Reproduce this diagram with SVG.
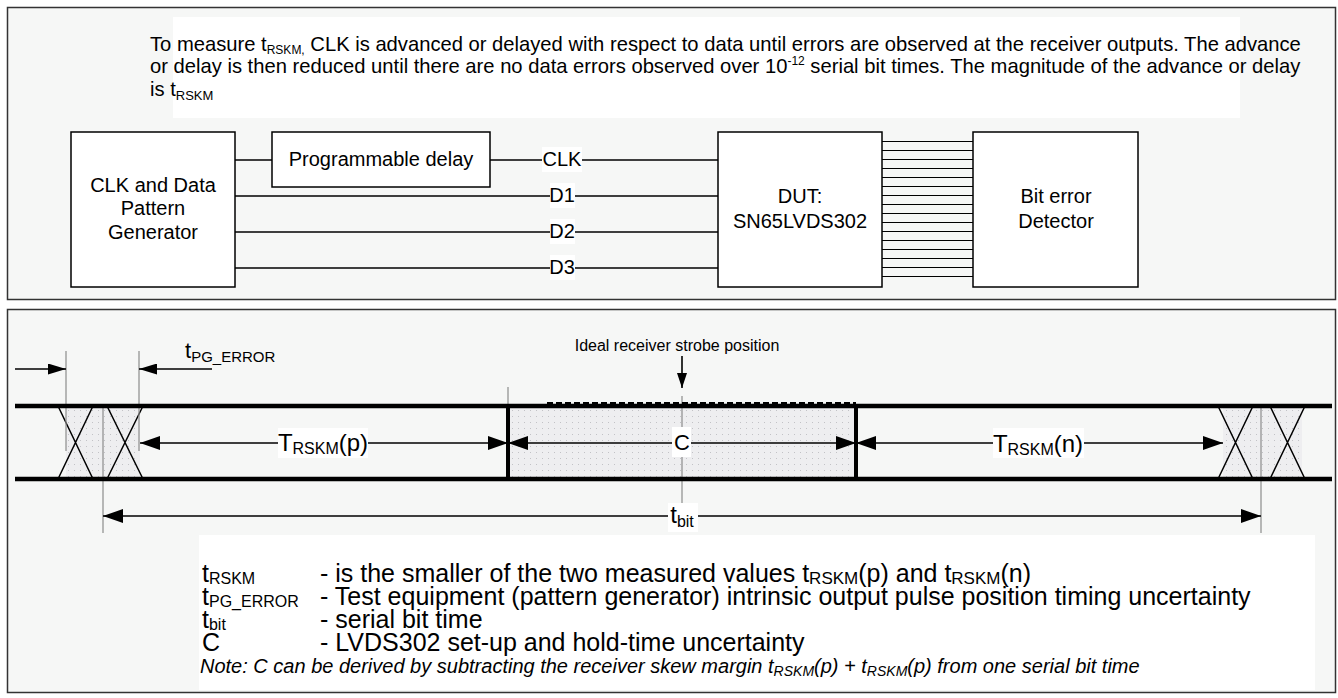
<svg xmlns="http://www.w3.org/2000/svg" width="1338" height="698" viewBox="0 0 1338 698">
<style>
.t{font-family:"Liberation Sans",Arial,Helvetica,sans-serif;fill:#000}
.panel{fill:#f6f7f6;stroke:#333;stroke-width:1.5}
.box{fill:#fff;stroke:#000;stroke-width:1.5}
.wire{stroke:#000;stroke-width:1.3;fill:none}
.bus{stroke:#000;stroke-width:1.1;fill:none}
.lbg{fill:#fff}
.thick{stroke:#000;stroke-width:4.5;fill:none}
.bold{stroke:#000;stroke-width:4;fill:none}
.x{stroke:#000;stroke-width:1.5;fill:none}
.gray{stroke:#8c8c8c;stroke-width:1.2;fill:none}
.arr{stroke:#000;stroke-width:1.6;fill:none;marker-start:url(#ah);marker-end:url(#ah)}
.arrs{stroke:#000;stroke-width:1.4;fill:none;marker-end:url(#ahs)}
</style>
<defs>
<marker id="ah" viewBox="0 0 20 14" refX="20" refY="7" markerWidth="20" markerHeight="14" markerUnits="userSpaceOnUse" orient="auto-start-reverse"><path d="M0,0 L20,7 L0,14 z" fill="#000"/></marker>
<marker id="ahs" viewBox="0 0 18 11" refX="18" refY="5.5" markerWidth="18" markerHeight="11" markerUnits="userSpaceOnUse" orient="auto"><path d="M0,0 L18,5.5 L0,11 z" fill="#000"/></marker>
<marker id="ahd" viewBox="0 0 15 10" refX="15" refY="5" markerWidth="15" markerHeight="10" markerUnits="userSpaceOnUse" orient="auto"><path d="M0,0 L15,5 L0,10 z" fill="#000"/></marker>
<pattern id="dots" width="6" height="6" patternUnits="userSpaceOnUse"><rect width="6" height="6" fill="#eeeef0"/><rect x="2" y="2" width="1" height="1" fill="#c2c2c6"/></pattern>
</defs>

<!-- Top panel -->
<rect class="panel" x="7.5" y="7.5" width="1328" height="292"/>
<rect class="lbg" x="173" y="17" width="1067" height="101"/>
<g id="description">
<text class="t" font-size="20.2" x="150" y="51">To measure t<tspan font-size="12" dy="3">RSKM,</tspan><tspan dy="-3"> CLK is advanced or delayed with respect to data until errors are observed at the receiver outputs. The advance</tspan></text>
<text class="t" font-size="20.2" x="150" y="73">or delay is then reduced until there are no data errors observed over 10<tspan font-size="12" dy="-8">-12</tspan><tspan dy="8"> serial bit times. The magnitude of the advance or delay</tspan></text>
<text class="t" font-size="20.2" x="150" y="96">is t<tspan font-size="13" dy="4">RSKM</tspan></text>
</g>

<g id="connectors">
<line class="wire" x1="235" y1="160" x2="272" y2="160"/>
<line class="wire" x1="490" y1="160" x2="718" y2="160"/>
<line class="wire" x1="235" y1="196" x2="718" y2="196"/>
<line class="wire" x1="235" y1="232" x2="718" y2="232"/>
<line class="wire" x1="235" y1="268" x2="718" y2="268"/>
<rect class="lbg" x="542" y="147" width="40" height="25"/>
<rect class="lbg" x="550" y="183" width="25" height="25"/>
<rect class="lbg" x="550" y="219" width="25" height="25"/>
<rect class="lbg" x="550" y="255" width="25" height="25"/>
<text class="t" font-size="20" x="562" y="166" text-anchor="middle">CLK</text>
<text class="t" font-size="20" x="562" y="202" text-anchor="middle">D1</text>
<text class="t" font-size="20" x="562" y="238" text-anchor="middle">D2</text>
<text class="t" font-size="20" x="562" y="274" text-anchor="middle">D3</text>
<g id="bus">
<line class="bus" x1="882" y1="141.5" x2="973" y2="141.5"/>
<line class="bus" x1="882" y1="150.5" x2="973" y2="150.5"/>
<line class="bus" x1="882" y1="159.5" x2="973" y2="159.5"/>
<line class="bus" x1="882" y1="168.5" x2="973" y2="168.5"/>
<line class="bus" x1="882" y1="177.5" x2="973" y2="177.5"/>
<line class="bus" x1="882" y1="186.5" x2="973" y2="186.5"/>
<line class="bus" x1="882" y1="195.5" x2="973" y2="195.5"/>
<line class="bus" x1="882" y1="204.5" x2="973" y2="204.5"/>
<line class="bus" x1="882" y1="213.5" x2="973" y2="213.5"/>
<line class="bus" x1="882" y1="222.5" x2="973" y2="222.5"/>
<line class="bus" x1="882" y1="231.5" x2="973" y2="231.5"/>
<line class="bus" x1="882" y1="240.5" x2="973" y2="240.5"/>
<line class="bus" x1="882" y1="249.5" x2="973" y2="249.5"/>
<line class="bus" x1="882" y1="258.5" x2="973" y2="258.5"/>
<line class="bus" x1="882" y1="267.5" x2="973" y2="267.5"/>
<line class="bus" x1="882" y1="276.5" x2="973" y2="276.5"/>
</g>
</g>

<g id="pattern-generator">
<rect class="box" x="71" y="132" width="164" height="155"/>
<text class="t" font-size="20" x="153" y="192" text-anchor="middle">CLK and Data</text>
<text class="t" font-size="20" x="153" y="215" text-anchor="middle">Pattern</text>
<text class="t" font-size="20" x="153" y="239" text-anchor="middle">Generator</text>
</g>
<g id="programmable-delay">
<rect class="box" x="272" y="132" width="218" height="55"/>
<text class="t" font-size="20" x="381" y="166" text-anchor="middle">Programmable delay</text>
</g>
<g id="dut">
<rect class="box" x="718" y="132" width="164" height="155"/>
<text class="t" font-size="20" x="800" y="203" text-anchor="middle">DUT:</text>
<text class="t" font-size="20" x="800" y="228" text-anchor="middle">SN65LVDS302</text>
</g>
<g id="bit-error-detector">
<rect class="box" x="973" y="132" width="165" height="155"/>
<text class="t" font-size="20" x="1056" y="203" text-anchor="middle">Bit error</text>
<text class="t" font-size="20" x="1056" y="228" text-anchor="middle">Detector</text>
</g>

<!-- Bottom panel -->
<rect class="panel" x="7.5" y="309.5" width="1328" height="383"/>
<g id="timing">
<rect x="66" y="406" width="74" height="73" fill="url(#dots)"/>
<rect x="508" y="406" width="348" height="73" fill="url(#dots)"/>
<rect x="1223" y="406" width="79" height="73" fill="url(#dots)"/>
<path class="x" d="M58,406 L93,479 M93,406 L58,479 M107,406 L143,479 M143,406 L107,479"/>
<path class="x" d="M1218,406 L1253,479 M1253,406 L1218,479 M1270,406 L1305,479 M1305,406 L1270,479"/>
<line class="gray" x1="66" y1="351" x2="66" y2="451"/>
<line class="gray" x1="139" y1="351" x2="139" y2="451"/>
<line class="gray" x1="103" y1="406" x2="103" y2="533"/>
<line class="gray" x1="1261" y1="406" x2="1261" y2="533"/>
<line class="gray" x1="508" y1="387" x2="508" y2="406"/>
<line class="gray" x1="682" y1="396" x2="682" y2="506"/>
<line class="thick" x1="15" y1="406" x2="1332" y2="406"/>
<line class="thick" x1="15" y1="479" x2="1332" y2="479"/>
<line x1="547" y1="403" x2="856" y2="403" stroke="#000" stroke-width="2" stroke-dasharray="6,3"/>
<line class="bold" x1="508" y1="404" x2="508" y2="481"/>
<line class="bold" x1="856" y1="404" x2="856" y2="481"/>

<line class="arrs" x1="15" y1="369" x2="66" y2="369"/>
<line class="arrs" x1="212" y1="369" x2="139" y2="369"/>
<text class="t" x="185" y="358" font-size="22">t<tspan font-size="15" dy="4">PG_ERROR</tspan></text>

<text class="t" x="677" y="351" font-size="16" text-anchor="middle">Ideal receiver strobe position</text>
<line x1="682" y1="356" x2="682" y2="388" stroke="#000" stroke-width="1.6" marker-end="url(#ahd)"/>

<line class="arr" x1="140" y1="443" x2="508" y2="443"/>
<line class="arr" x1="508" y1="443" x2="856" y2="443"/>
<line class="arr" x1="856" y1="443" x2="1223" y2="443"/>
<line class="arr" x1="103" y1="516" x2="1261" y2="516"/>

<rect class="lbg" x="278" y="428" width="90" height="30"/>
<text class="t" x="323" y="451" font-size="24" text-anchor="middle">T<tspan font-size="16" dy="3">RSKM</tspan><tspan dy="-3">(p)</tspan></text>
<rect class="lbg" x="672" y="427" width="19" height="30"/>
<text class="t" x="682" y="450" font-size="22" text-anchor="middle">C</text>
<rect class="lbg" x="993" y="428" width="91" height="30"/>
<text class="t" x="1038" y="452" font-size="24" text-anchor="middle">T<tspan font-size="16" dy="3">RSKM</tspan><tspan dy="-3">(n)</tspan></text>
<rect class="lbg" x="668" y="503" width="30" height="29"/>
<text class="t" x="682" y="523" font-size="24" text-anchor="middle">t<tspan font-size="16" dy="4">bit</tspan></text>
</g>

<g id="legend">
<rect class="lbg" x="199" y="535" width="1116" height="155"/>
<text class="t" x="202" y="582" font-size="25">t<tspan font-size="16" dy="2">RSKM</tspan></text>
<text class="t" x="320" y="582" font-size="25">- is the smaller of the two measured values t<tspan font-size="17" dy="2">RSKM</tspan><tspan dy="-2">(p) and t</tspan><tspan font-size="17" dy="2">RSKM</tspan><tspan dy="-2">(n)</tspan></text>
<text class="t" x="202" y="605" font-size="25">t<tspan font-size="16" dy="2">PG_ERROR</tspan></text>
<text class="t" x="320" y="605" font-size="25">- Test equipment (pattern generator) intrinsic output pulse position timing uncertainty</text>
<text class="t" x="202" y="628" font-size="25">t<tspan font-size="16" dy="2">bit</tspan></text>
<text class="t" x="320" y="628" font-size="25">- serial bit time</text>
<text class="t" x="202" y="651" font-size="25">C</text>
<text class="t" x="320" y="651" font-size="25">- LVDS302 set-up and hold-time uncertainty</text>
<text class="t" x="200" y="673" font-size="20" font-style="italic">Note: C can be derived by subtracting the receiver skew margin t<tspan font-size="14" dy="3">RSKM</tspan><tspan dy="-3">(p) + t</tspan><tspan font-size="14" dy="3">RSKM</tspan><tspan dy="-3">(p) from one serial bit time</tspan></text>
</g>
</svg>
